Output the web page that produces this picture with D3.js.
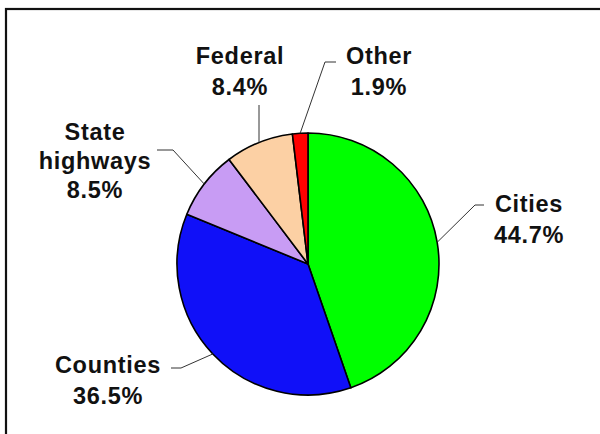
<!DOCTYPE html>
<html>
<head>
    <title>Pie Chart</title>
    <script src="https://cdn.jsdelivr.net/npm/d3@7"></script>
    <style>
        body {
            margin: 0;
            background: #fff;
        }
        .label {
            font-family: "Liberation Sans", Arial, sans-serif;
            font-size: 23.5px;
            font-weight: bold;
            letter-spacing: 0.7px;
            fill: #111;
        }
    </style>
</head>
<body>
    <svg width="600" height="434" id="mainsvg" style="display: block;"></svg>
    <script>
        const categories = ['Cities', 'Counties', 'State\nhighways', 'Federal', 'Other'];
        const shares = [44.7, 36.5, 8.5, 8.4, 1.9];
        const colors = ['#00ff00', '#1010f8', '#c89cf4', '#fcd0a4', '#ff0000'];

        // label layout: text centre / first baseline, elbow and end of leader line
        const labelLayout = [
            { x: 529, y: 212, elbow: [475, 205], end: [484, 205] },
            { x: 108, y: 373, elbow: [181, 368], end: [171, 368] },
            { x: 95, y: 140, elbow: [173, 150], end: [157, 150] },
            { x: 240, y: 64, elbow: [259, 105], end: [259, 105] },
            { x: 379, y: 64, elbow: [325, 62], end: [336, 62] }
        ];

        const svg = d3.select('#mainsvg');
        const cx = 308, cy = 264, radius = 131;

        // frame (only top and left edges fall inside the picture)
        svg.append('rect')
            .attr('x', 6)
            .attr('y', 9)
            .attr('width', 620)
            .attr('height', 460)
            .attr('fill', 'none')
            .attr('stroke', '#111')
            .attr('stroke-width', 2.2);

        const data = categories.map((c, i) => ({ name: c, value: shares[i], color: colors[i], layout: labelLayout[i] }));

        const pie = d3.pie()
            .sort(null)
            .value(d => d.value);

        const arc = d3.arc()
            .innerRadius(0)
            .outerRadius(radius);

        const g = svg.append('g')
            .attr('transform', `translate(${cx}, ${cy})`);

        const arcs = pie(data);

        g.selectAll('path.slice')
            .data(arcs)
            .enter()
            .append('path')
                .attr('class', 'slice')
                .attr('d', arc)
                .attr('fill', d => d.data.color)
                .attr('stroke', '#000')
                .attr('stroke-width', 1.6)
                .attr('stroke-linejoin', 'round');

        // leader lines from the slice edge
        svg.selectAll('polyline.leader')
            .data(arcs)
            .enter()
            .append('polyline')
                .attr('class', 'leader')
                .attr('fill', 'none')
                .attr('stroke', '#333')
                .attr('stroke-width', 1)
                .attr('points', d => {
                    const a = (d.startAngle + d.endAngle) / 2;
                    const sx = cx + radius * Math.sin(a);
                    const sy = cy - radius * Math.cos(a);
                    const L = d.data.layout;
                    return [[sx, sy], L.elbow, L.end].map(p => p.join(',')).join(' ');
                });

        // labels
        const labels = svg.selectAll('text.label')
            .data(arcs)
            .enter()
            .append('text')
                .attr('class', 'label')
                .attr('text-anchor', 'middle');

        labels.each(function(d) {
            const lines = d.data.name.split('\n').concat([d.data.value.toFixed(1) + '%']);
            const t = d3.select(this);
            lines.forEach((line, i) => {
                t.append('tspan')
                    .attr('x', d.data.layout.x)
                    .attr('y', d.data.layout.y + i * (lines.length > 2 ? 29 : 31))
                    .text(line);
            });
        });
    </script>
</body>
</html>
